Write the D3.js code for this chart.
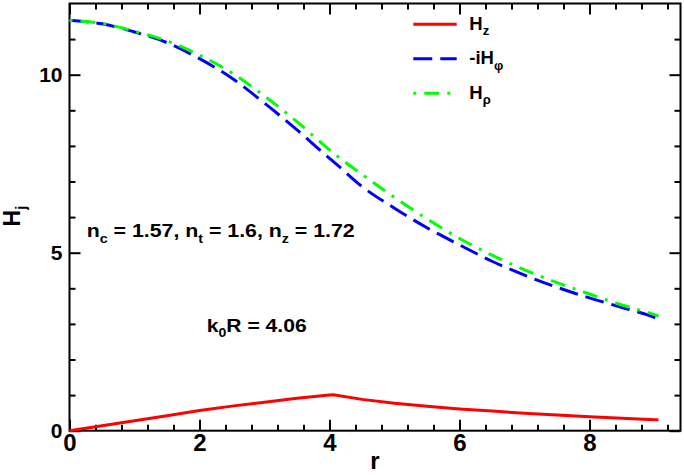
<!DOCTYPE html>
<html>
<head>
<meta charset="utf-8">
<script src="https://cdn.jsdelivr.net/npm/d3@7"></script>
<style>
  body { margin: 0; background: #fff; }
  svg { display: block; font-family: "Liberation Sans", Arial, sans-serif; font-weight: bold; }
</style>
</head>
<body>
<div id="chart"></div>
<script>
// values
const rValues = [0, 0.5, 1, 1.5, 2, 2.5, 3, 3.5, 4, 4.06, 4.5, 5, 5.5, 6, 6.5, 7, 7.5, 8, 8.5, 9, 9.06];
const hzValues = [0, 0.14, 0.28, 0.42, 0.57, 0.69, 0.80, 0.91, 1.0, 1.01, 0.88, 0.77, 0.69, 0.61, 0.55, 0.49, 0.44, 0.39, 0.35, 0.31, 0.31];
const hphiValues = [11.52, 11.43, 11.2, 10.9, 10.45, 9.9, 9.2, 8.45, 7.65, 7.56, 6.86, 6.25, 5.7, 5.22, 4.76, 4.37, 4.03, 3.73, 3.46, 3.18, 3.13];
const hrhoValues = [11.52, 11.44, 11.22, 10.95, 10.55, 10.05, 9.4, 8.68, 7.89, 7.8, 7.2, 6.55, 5.95, 5.4, 4.93, 4.52, 4.16, 3.84, 3.53, 3.26, 3.22];

const seriesNames = [["H", "z"], ["-iH", "\u03C6"], ["H", "\u03C1"]];
const xTicks = [0, 2, 4, 6, 8];
const yTicks = [0, 5, 10];
const xDomain = [0, 9.4];
const yDomain = [0, 12];

// styles
const lineColors = ["#ff0000", "#0000ff", "#00ff00"];
const lineDash = [null, "19,8", "15,8,3,8"];
const dashOffset = [0, 0, 23];

const W = 684, H = 475;
const svg = d3.select("#chart").append("svg").attr("width", W).attr("height", H);

const x = d3.scaleLinear().domain(xDomain).range([69.5, 680.5]);
const y = d3.scaleLinear().domain(yDomain).range([430.7, 3.5]);

const xMinor = d3.range(0, 9.4, 0.4).filter(v => Math.abs(v / 2 - Math.round(v / 2)) > 0.01);
const yMinor = d3.range(1, 12, 1).filter(v => v % 5 !== 0);

function styleAxis(g) {
    g.select(".domain").remove();
    g.selectAll(".tick line").attr("stroke", "#000").attr("stroke-width", 2);
}

// bottom
svg.append("g").attr("transform", `translate(0,${y(0)})`)
    .call(d3.axisBottom(x).tickValues(xTicks).tickSizeInner(-11).tickSizeOuter(0).tickPadding(3).tickFormat(d3.format("d")))
    .call(styleAxis)
    .call(g => g.selectAll("text").attr("fill", "#000").style("font-size", "24px").style("font-family", "Liberation Sans, Arial").style("font-weight", "bold"));
svg.append("g").attr("transform", `translate(0,${y(0)})`)
    .call(d3.axisBottom(x).tickValues(xMinor).tickSizeInner(-6).tickSizeOuter(0).tickFormat(""))
    .call(styleAxis);
// top
svg.append("g").attr("transform", `translate(0,${y(12)})`)
    .call(d3.axisTop(x).tickValues(xTicks).tickSizeInner(-11).tickSizeOuter(0).tickFormat(""))
    .call(styleAxis);
svg.append("g").attr("transform", `translate(0,${y(12)})`)
    .call(d3.axisTop(x).tickValues(xMinor).tickSizeInner(-6).tickSizeOuter(0).tickFormat(""))
    .call(styleAxis);
// left
svg.append("g").attr("transform", `translate(${x(0)},0)`)
    .call(d3.axisLeft(y).tickValues(yTicks).tickSizeInner(-11).tickSizeOuter(0).tickPadding(7).tickFormat(d3.format("d")))
    .call(styleAxis)
    .call(g => g.selectAll("text").attr("fill", "#000").style("font-size", "21px").style("font-family", "Liberation Sans, Arial").style("font-weight", "bold"));
svg.append("g").attr("transform", `translate(${x(0)},0)`)
    .call(d3.axisLeft(y).tickValues(yMinor).tickSizeInner(-6).tickSizeOuter(0).tickFormat(""))
    .call(styleAxis);
// right
svg.append("g").attr("transform", `translate(${x(9.4)},0)`)
    .call(d3.axisRight(y).tickValues(yTicks).tickSizeInner(-11).tickSizeOuter(0).tickFormat(""))
    .call(styleAxis);
svg.append("g").attr("transform", `translate(${x(9.4)},0)`)
    .call(d3.axisRight(y).tickValues(yMinor).tickSizeInner(-6).tickSizeOuter(0).tickFormat(""))
    .call(styleAxis);

// frame
svg.append("rect")
    .attr("x", x(0)).attr("y", y(12))
    .attr("width", x(9.4) - x(0)).attr("height", y(0) - y(12))
    .attr("fill", "none").attr("stroke", "#000").attr("stroke-width", 2);

// curves
const seriesValues = [hzValues, hphiValues, hrhoValues];
const curves = [d3.curveLinear, d3.curveMonotoneX, d3.curveMonotoneX];
seriesValues.forEach((vals, i) => {
    const line = d3.line().x((d, j) => x(rValues[j])).y(d => y(d)).curve(curves[i]);
    svg.append("path")
        .datum(vals)
        .attr("d", line)
        .attr("fill", "none")
        .attr("stroke", lineColors[i])
        .attr("stroke-width", 3)
        .attr("stroke-dasharray", lineDash[i])
        .attr("stroke-dashoffset", dashOffset[i]);
});

// legend
seriesNames.forEach((n, i) => {
    const ly = 24.3 + i * 34.5;
    svg.append("line")
        .attr("x1", 413.3).attr("x2", 456.7).attr("y1", ly).attr("y2", ly)
        .attr("stroke", lineColors[i]).attr("stroke-width", 3)
        .attr("stroke-dasharray", lineDash[i]).attr("stroke-dashoffset", dashOffset[i]);
    const t = svg.append("text").attr("x", 469.3).attr("y", ly + 5.5).style("font-size", "18.5px");
    t.append("tspan").text(n[0]);
    t.append("tspan").attr("dy", 5.5).style("font-size", "13px").text(n[1]);
});

// annotations
const ann1 = svg.append("text").attr("x", 86.7).attr("y", 236.7).style("font-size", "18px")
    .attr("textLength", 268).attr("lengthAdjust", "spacingAndGlyphs");
[["n", false], ["c", true], [" = 1.57, n", false], ["t", true], [" = 1.6, n", false], ["z", true], [" = 1.72", false]]
    .forEach(([s, sub]) => {
        ann1.append("tspan").attr("dy", sub ? 6 : (s === "n" ? 0 : -6)).style("font-size", sub ? "12px" : "18px").text(s);
    });

const ann2 = svg.append("text").attr("x", 206.7).attr("y", 331.7).style("font-size", "18px")
    .attr("textLength", 100).attr("lengthAdjust", "spacingAndGlyphs");
ann2.append("tspan").text("k");
ann2.append("tspan").attr("dy", 5).style("font-size", "12px").text("0");
ann2.append("tspan").attr("dy", -5).text("R = 4.06");

// axis titles
svg.append("text").attr("x", 375).attr("y", 469).attr("text-anchor", "middle").style("font-size", "24px").text("r");
const yt = svg.append("text").attr("transform", "translate(20,216) rotate(-90)").attr("text-anchor", "middle").style("font-size", "23px");
yt.append("tspan").text("H");
yt.append("tspan").attr("dy", 6).style("font-size", "15px").text("j");
</script>
</body>
</html>
